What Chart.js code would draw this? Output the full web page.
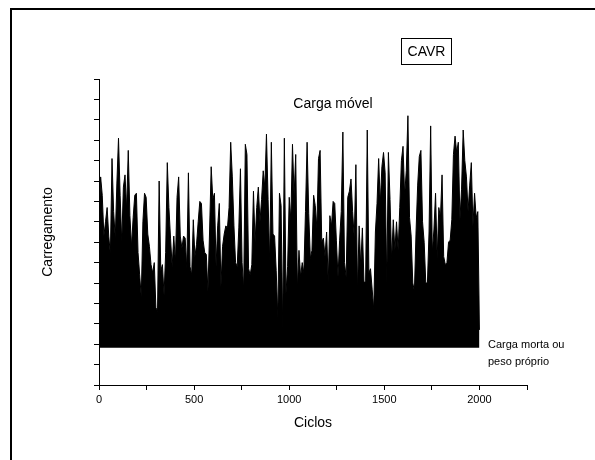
<!DOCTYPE html>
<html><head><meta charset="utf-8">
<script src="https://cdn.jsdelivr.net/npm/chart.js@4/dist/chart.umd.min.js"></script>
<style>html,body{margin:0;padding:0;background:#fff}</style>
</head><body>
<canvas id="c" width="595" height="460"></canvas>
<script>
// Live-load peaks (Carga móvel), left to right over 0..2000 cycles
const loadPeaks = [
  7.7,10.2,9.3,7.3,8.0,8.7,7.3,6.4,11.1,8.5,7.2,9.9,12.1,9.3,7.0,9.7,10.3,8.6,11.5,8.3,6.8,8.2,9.3,9.4,6.5,5.4,4.3,8.0,9.4,9.2,7.4,6.8,5.9,5.5,6.0,3.8,3.6,
  10.0,5.6,5.9,4.4,6.5,10.9,8.7,7.2,5.8,7.3,6.0,9.2,10.2,7.3,6.7,7.3,7.2,5.7,10.4,5.8,5.4,8.1,6.3,6.9,8.0,9.0,8.9,7.1,6.5,6.4,4.6,7.5,10.7,9.1,9.4,5.8,7.8,8.9,4.8,6.8,7.4,7.8,
  7.7,8.7,11.9,10.2,7.8,6.0,5.8,7.7,10.6,6.0,4.7,11.8,11.3,5.7,5.4,5.9,9.5,7.0,8.7,9.7,8.0,9.1,10.5,9.7,12.3,9.1,6.0,11.9,7.4,7.3,5.6,3.3,9.4,8.8,2.7,12.1,4.5,5.8,9.2,8.1,
  11.8,9.3,11.3,4.7,6.6,5.3,6.0,5.5,8.5,11.9,8.4,6.2,6.6,9.3,8.8,7.7,11.1,11.5,7.0,7.2,6.3,7.5,5.0,8.3,7.8,9.0,8.9,7.1,5.3,7.1,8.5,12.4,6.0,5.3,9.2,9.5,10.1,8.5,7.2,
  10.8,4.6,7.8,5.8,7.7,5.0,5.1,12.5,5.5,5.7,4.7,3.7,7.5,8.9,11.1,8.9,10.7,11.4,10.4,5.0,11.4,9.1,6.1,8.1,6.6,8.0,6.6,8.7,11.0,11.7,9.3,10.5,13.2,8.2,7.3,5.0,4.6,7.5,
  9.8,11.2,11.5,8.0,7.0,5.0,5.0,7.5,12.7,6.5,7.6,9.4,6.2,8.7,8.2,10.3,6.3,5.9,6.0,7.0,7.1,8.1,11.3,12.2,11.4,11.9,8.1,9.6,12.5,11.0,10.2,8.5,9.8,10.9,7.8,9.4,8.2,8.5,2.7
];
const deadLoad = 1.82;        // Carga morta ou peso próprio
const cycleStart = 0;
const cycleEnd = 2000;
const xTickValues = [0,250,500,750,1000,1250,1500,1750,2000,2250];
const xTickLabels = ['0','','500','','1000','','1500','','2000',''];
const yMax = 15;

const FONT = "'Liberation Sans', Arial, Helvetica, sans-serif";
const n = loadPeaks.length;
const points = loadPeaks.map((v, i) => ({x: cycleStart + i * (cycleEnd - cycleStart) / (n - 1), y: v}));

const annotations = {
  id: 'annotations',
  afterDraw(chart) {
    const ctx = chart.ctx;
    ctx.save();
    // outer frame (cropped at right and bottom)
    ctx.strokeStyle = '#000';
    ctx.lineWidth = 2;
    ctx.strokeRect(11, 9, 700, 600);
    ctx.fillStyle = '#000';
    ctx.textBaseline = 'middle';
    ctx.textAlign = 'center';
    ctx.font = '14px ' + FONT;
    ctx.fillText('Carga móvel', 333, 104);
    // CAVR box
    ctx.lineWidth = 1;
    ctx.strokeRect(401.5, 38.5, 50, 26);
    ctx.fillText('CAVR', 426.5, 52);
    ctx.textAlign = 'left';
    ctx.font = '11px ' + FONT;
    ctx.fillText('Carga morta ou', 488, 345);
    ctx.fillText('peso próprio', 488, 362);
    ctx.restore();
  }
};

new Chart(document.getElementById('c'), {
  type: 'line',
  data: {
    datasets: [{
      data: points,
      borderColor: '#000',
      backgroundColor: '#000',
      borderWidth: 1,
      pointRadius: 0,
      tension: 0,
      fill: {value: deadLoad}
    }]
  },
  options: {
    responsive: false,
    devicePixelRatio: 1,
    animation: false,
    events: [],
    layout: {padding: {left: 40, top: 79, right: 68, bottom: 28}},
    plugins: {legend: {display: false}, tooltip: {enabled: false}},
    scales: {
      x: {
        type: 'linear',
        min: 0, max: 2250,
        afterBuildTicks: s => { s.ticks = xTickValues.map(v => ({value: v})); },
        afterFit: s => { s.height = 47; },
        ticks: {
          autoSkip: false, maxRotation: 0, padding: 3, color: '#000',
          font: {family: FONT, size: 11},
          callback: (v, i) => xTickLabels[i]
        },
        grid: {drawOnChartArea: false, drawTicks: true, tickLength: 5, color: '#000'},
        border: {display: true, color: '#000', width: 1},
        title: {display: true, text: 'Ciclos', color: '#000', padding: 0, font: {family: FONT, size: 14}}
      },
      y: {
        min: 0, max: yMax,
        afterFit: s => { s.width = 59; },
        ticks: {stepSize: 1, display: false},
        grid: {drawOnChartArea: false, drawTicks: true, tickLength: 5, color: '#000'},
        border: {display: true, color: '#000', width: 1},
        title: {display: true, text: 'Carregamento', color: '#000', padding: 0, font: {family: FONT, size: 14}}
      }
    }
  },
  plugins: [annotations]
});
</script>
</body></html>
